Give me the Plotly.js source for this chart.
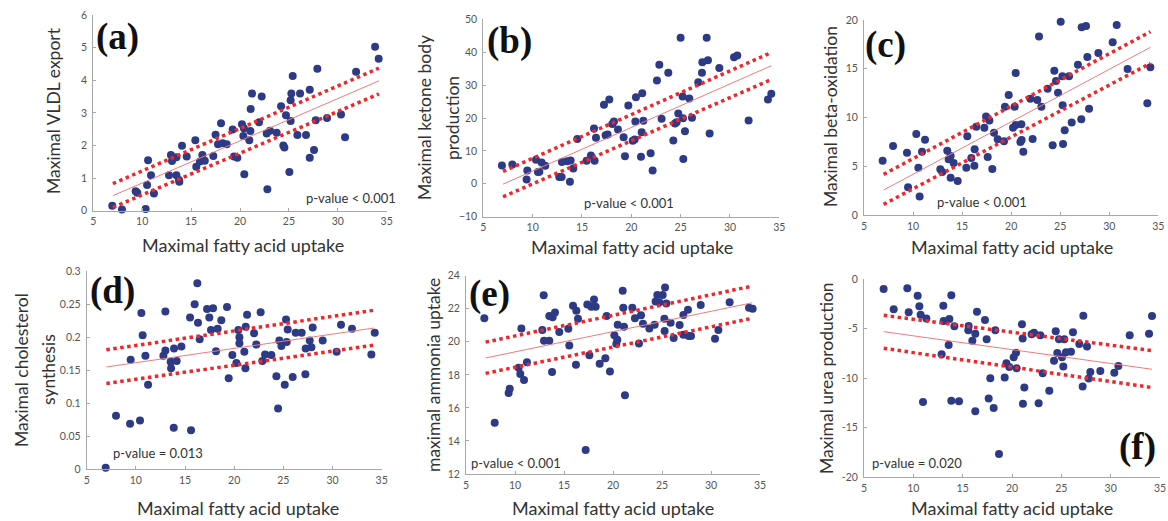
<!DOCTYPE html>
<html><head><meta charset="utf-8">
<script src="https://cdn.plot.ly/plotly-3.0.1.min.js"></script>
<style>html,body{margin:0;padding:0;background:#fff}#chart{width:1168px;height:521px}</style>
</head><body><div id="chart"></div>
<script>
// ---------- data ----------
const aX=[6.94,7.93,9.33,9.5,10.35,10.5,10.6,10.9,11.2,12.74,12.94,13.05,13.5,13.5,13.76,13.8,14.07,14.55,15.43,15.53,15.9,16.15,16.4,17.27,17.5,17.75,18.06,18.23,18.64,19.25,19.39,19.73,20.2,20.34,20.4,20.44,20.95,21.09,21.06,21.23,21.95,22.22,22.73,22.8,23.07,23.75,24.2,24.43,24.54,24.7,25.05,25.18,25.18,25.25,25.39,25.87,26.14,26.75,27.13,27.13,27.57,27.74,27.91,28.9,30.33,30.74,31.87,33.81,34.18];
const aY=[0.15,0.04,0.60,0.55,0.05,0.79,1.55,1.09,0.53,1.09,1.71,1.52,1.64,1.09,0.94,0.89,1.99,1.66,2.16,1.35,1.51,1.71,1.53,1.68,2.33,2.04,2.68,2.07,2.04,2.49,1.66,1.62,2.65,2.29,2.53,1.12,2.16,3.12,2.44,3.59,2.71,3.50,2.37,0.66,2.45,2.39,3.20,2.00,1.94,2.93,1.19,3.39,2.75,3.59,4.13,2.32,3.59,2.32,1.62,3.71,1.86,2.77,4.35,2.84,2.95,2.25,4.26,5.03,4.66];
const bX=[6.89,7.94,9.39,9.46,10.34,10.54,10.68,10.91,11.28,12.7,12.94,12.97,13.51,13.85,13.78,14.12,14.53,15.47,15.91,16.22,16.28,16.42,17.23,17.4,17.6,17.77,18.07,18.24,18.65,19.22,19.36,19.7,20.14,20.34,20.41,20.47,20.98,21.05,21.11,21.22,21.96,22.16,22.6,22.84,23.07,23.75,24.26,24.43,24.59,24.76,25.0,25.2,25.24,25.27,25.44,25.88,26.15,26.79,27.16,27.2,27.64,27.77,27.94,28.92,30.41,30.74,31.89,33.85,34.19];
const bY=[5.57,5.88,1.32,4.05,7.29,3.55,3.65,6.48,5.47,2.03,2.03,6.59,6.89,7.09,0.61,4.66,13.58,6.99,8.61,16.82,6.99,13.98,24.01,14.79,15.0,25.63,18.14,18.95,16.51,14.18,8.41,23.81,13.07,13.48,18.95,26.34,8.21,15.7,27.56,19.15,9.32,4.05,31.41,36.17,19.76,33.74,13.17,18.34,18.74,21.38,44.38,26.55,19.96,7.5,16.0,25.94,20.06,30.9,33.74,36.98,44.38,37.59,15.3,35.16,38.5,39.0,19.25,25.63,27.36];
const cX=[6.9,7.96,9.38,9.49,10.33,10.54,10.67,10.91,11.22,12.78,12.98,13.49,13.63,13.83,13.83,14.14,14.55,15.43,15.53,15.94,16.25,16.28,16.45,17.27,17.44,17.61,17.78,18.08,18.25,18.63,19.27,19.37,19.75,20.19,20.36,20.46,20.46,20.94,21.04,21.07,21.24,21.96,22.19,22.67,22.84,23.08,23.72,24.23,24.4,24.57,24.78,25.05,25.22,25.25,25.29,25.46,25.9,26.17,26.81,27.15,27.19,27.63,27.77,27.94,28.89,30.35,30.76,31.87,33.88,34.19];
const cY=[5.57,7.08,6.39,2.84,8.31,4.85,1.91,6.5,7.73,4.68,4.41,6.6,5.71,6.05,3.83,5.33,3.49,4.85,8.07,5.85,5.06,6.74,9.06,8.96,10.09,5.95,9.68,4.72,8.44,7.76,7.56,11.11,12.31,8.96,11.11,14.56,9.23,7.49,9.3,7.69,6.5,11.93,7.79,11.79,18.32,11.11,12.96,7.15,14.8,13.74,12.55,19.83,14.22,11.25,7.28,8.68,14.22,9.5,15.42,9.81,19.25,19.38,16.2,10.9,16.62,17.71,19.49,14.97,11.45,15.15];
const dX=[6.93,7.98,9.41,9.47,10.42,10.56,10.69,10.97,11.24,12.8,13.0,13.0,13.54,13.58,13.85,13.88,14.15,14.63,15.51,15.61,15.98,16.25,16.32,16.49,17.24,17.47,17.64,17.85,18.15,18.32,18.69,19.27,19.44,19.81,20.22,20.42,20.53,20.53,21.03,21.14,21.17,21.31,22.02,22.25,22.69,22.86,23.14,23.78,24.29,24.46,24.59,24.8,25.14,25.27,25.34,25.44,25.95,26.25,26.86,27.24,27.27,27.68,27.85,27.98,29.0,30.42,30.86,31.98,33.95,34.29];
const dY=[0.0025,0.081,0.069,0.166,0.074,0.237,0.203,0.172,0.128,0.172,0.239,0.18,0.163,0.153,0.063,0.183,0.164,0.186,0.230,0.059,0.25,0.282,0.222,0.197,0.243,0.230,0.211,0.244,0.179,0.213,0.226,0.246,0.138,0.173,0.161,0.211,0.2,0.191,0.178,0.153,0.216,0.234,0.206,0.189,0.238,0.164,0.174,0.173,0.141,0.092,0.195,0.187,0.128,0.227,0.193,0.212,0.14,0.207,0.207,0.144,0.183,0.195,0.185,0.215,0.195,0.178,0.219,0.213,0.174,0.207];
const eX=[6.87,7.93,9.35,9.46,10.37,10.54,10.65,10.92,11.22,12.79,12.93,12.96,13.5,13.5,13.78,13.84,14.08,14.52,15.44,15.54,15.92,16.22,16.26,16.43,17.21,17.38,17.59,17.79,18.06,18.23,18.64,19.22,19.35,19.69,20.14,20.34,20.44,20.48,20.99,21.05,21.12,21.22,21.97,22.24,22.65,22.86,23.06,23.71,24.25,24.35,24.52,24.73,25.07,25.24,25.27,25.31,25.44,25.88,26.19,26.8,27.18,27.18,27.65,27.72,27.96,28.95,30.41,30.75,31.9,33.88,34.25];
const eY=[21.42,15.1,16.9,17.16,18.43,18.05,20.81,17.69,18.77,20.71,22.81,20.06,20.06,21.56,18.17,21.48,21.78,20.59,20.79,19.78,22.18,18.61,21.88,21.4,13.45,22.26,19.18,22.12,22.56,22.12,18.67,19.0,21.56,18.21,20.39,19.88,20.13,21.03,23.09,22.06,20.91,16.76,22.06,21.42,19.9,21.6,21.09,20.81,21.03,22.44,22.83,22.4,22.83,21.4,20.65,23.29,22.32,21.15,20.23,21.01,21.62,20.43,21.94,20.35,20.35,22.22,20.19,20.71,22.4,22.06,22.0];
const fX=[6.99,8.01,9.39,9.53,10.44,10.61,10.74,10.98,11.32,12.87,13.04,13.07,13.58,13.65,13.85,13.85,14.16,14.63,15.57,15.61,15.98,16.28,16.28,16.45,17.26,17.43,17.64,17.8,18.14,18.31,18.68,19.26,19.43,19.73,20.17,20.41,20.47,21.01,21.08,21.11,21.25,21.99,22.23,22.7,22.87,23.11,23.78,24.26,24.43,24.59,24.76,25.07,25.2,25.3,25.47,25.98,26.18,26.82,27.16,27.23,27.6,27.77,27.94,28.95,30.37,30.78,31.93,33.89,34.19];
const fY=[-0.98,-3.03,-0.91,-3.33,-1.65,-2.73,-3.57,-12.39,-3.97,-7.58,-2.66,-4.21,-6.63,-4.01,-1.62,-12.26,-4.75,-12.32,-5.15,-4.71,-6.2,-5.49,-13.33,-3.27,-4.11,-6.06,-12.05,-10.0,-13.0,-5.15,-17.64,-9.93,-8.48,-8.86,-7.88,-7.41,-8.99,-4.55,-5.99,-12.56,-10.94,-5.56,-5.39,-12.53,-5.66,-9.49,-11.25,-8.22,-5.25,-7.44,-6.06,-7.88,-8.82,-6.06,-7.37,-7.31,-5.35,-6.53,-10.84,-3.67,-6.8,-10.03,-9.36,-9.26,-9.43,-8.75,-5.66,-5.49,-3.7];

// regression fit and confidence lines (end values)
const fitX=[7,34.2];
const aFit=[0.46,3.98], aUp=[0.83,4.37], aLo=[0.10,3.58];
const bFit=[-0.1,35.9], bUp=[3.75,39.9], bLo=[-3.95,31.7];
const cFit=[2.56,17.2], cUp=[4.17,18.8], cLo=[1.09,15.56];
const dFit=[0.155,0.214], dUp=[0.181,0.241], dLo=[0.13,0.188];
const eFit=[19.02,22.36], eUp=[19.98,23.37], eLo=[18.09,21.42];
const fFit=[-5.29,-9.09], fUp=[-3.64,-7.2], fLo=[-6.97,-10.94];

// tick labels
const xTicks=[5,10,15,20,25,30,35];
const aTicks=[0,1,2,3,4,5,6];
const bTicks=[-10,0,10,20,30,40,50], bTickText=['−10','0','10','20','30','40','50'];
const cTicks=[0,5,10,15,20];
const dTicks=[0,0.05,0.1,0.15,0.2,0.25,0.3], dTickText=['0','0.05','0.1','0.15','0.2','0.25','0.3'];
const eTicks=[12,14,16,18,20,22,24];
const fTicks=[-20,-15,-10,-5,0], fTickText=['-20','-15','-10','-5','0'];

const xTitle='Maximal fatty acid uptake';
const panels=[
 {id:'a',x:aX,y:aY,fit:aFit,up:aUp,lo:aLo,yr:[0,6],yt:aTicks,ytt:null,label:'(a)',p:'p-value < 0.001',yl:['Maximal VLDL export']},
 {id:'b',x:bX,y:bY,fit:bFit,up:bUp,lo:bLo,yr:[-10,50],yt:bTicks,ytt:bTickText,label:'(b)',p:'p-value < 0.001',yl:['Maximal ketone body','production']},
 {id:'c',x:cX,y:cY,fit:cFit,up:cUp,lo:cLo,yr:[0,20],yt:cTicks,ytt:null,label:'(c)',p:'p-value < 0.001',yl:['Maximal beta-oxidation']},
 {id:'d',x:dX,y:dY,fit:dFit,up:dUp,lo:dLo,yr:[0,0.3],yt:dTicks,ytt:dTickText,label:'(d)',p:'p-value = 0.013',yl:['Maximal cholesterol','synthesis']},
 {id:'e',x:eX,y:eY,fit:eFit,up:eUp,lo:eLo,yr:[12,24],yt:eTicks,ytt:null,label:'(e)',p:'p-value < 0.001',yl:['maximal ammonia uptake']},
 {id:'f',x:fX,y:fY,fit:fFit,up:fUp,lo:fLo,yr:[-20,0],yt:fTicks,ytt:fTickText,label:'(f)',p:'p-value = 0.020',yl:['Maximal urea production']}
];

// ---------- layout geometry (pixels) ----------
const W=1168,H=521;
const boxes=[ // left,right,top,bottom
 [93.3,386.7,15,210.7],[483.3,779.3,19.3,216.7],[864,1158.3,20,215],
 [86.7,381.7,271.3,469.3],[466,760,275.7,474],[864,1160,279.3,477.3]];
const labelPos=[[117,37],[509,41],[885,45],[112,291],[489,294],[1137,447]];
const pPos=[[351,198],[629,203],[982,202],[158,453],[516,463],[917,463]];
const ylPos=[[[53,111]],[[424,118],[452,118]],[[830,117]],[[21,370],[48,370]],[[433,375]],[[826,378]]];
const xlPos=[[243,245],[632,247],[1012,247],[238,508],[613,508],[1012,508]];

const RED='#f0262a', LRED='#f27a7a', NAVY='#2d3a86';
const FONT='Lato, "Open Sans", sans-serif';
const traces=[]; const layout={width:W,height:H,margin:{l:0,r:0,t:0,b:0},showlegend:false,
  paper_bgcolor:'#fff',plot_bgcolor:'#fff',annotations:[],font:{family:FONT}};
const px=v=>v/W, py=v=>1-v/H;

panels.forEach((P,i)=>{
  const n=i===0?'':String(i+1);
  const xa='x'+n, ya='y'+n;
  const b=boxes[i];
  traces.push({x:P.x,y:P.y,xaxis:xa,yaxis:ya,type:'scatter',mode:'markers',cliponaxis:false,
    marker:{color:NAVY,size:8,line:{width:0}}});
  traces.push({x:fitX,y:P.fit,xaxis:xa,yaxis:ya,type:'scatter',mode:'lines',line:{color:LRED,width:1}});
  traces.push({x:fitX,y:P.up,xaxis:xa,yaxis:ya,type:'scatter',mode:'lines',line:{color:RED,width:3.5,dash:'dot'}});
  traces.push({x:fitX,y:P.lo,xaxis:xa,yaxis:ya,type:'scatter',mode:'lines',line:{color:RED,width:3.5,dash:'dot'}});
  const axCommon={showgrid:false,zeroline:false,showline:true,linecolor:'#a8a8a8',linewidth:1,
    ticks:'inside',ticklen:3,tickcolor:'#a8a8a8',tickfont:{family:FONT,size:10.5,color:'#555'},fixedrange:true};
  layout['xaxis'+n]=Object.assign({},axCommon,{domain:[px(b[0]),px(b[1])],range:[5,35],anchor:ya,
    tickvals:xTicks,ticklabelstandoff:1});
  const yax=Object.assign({},axCommon,{domain:[py(b[3]),py(b[2])],range:P.yr,anchor:xa,tickvals:P.yt,ticklabelstandoff:3});
  if(P.ytt) yax.ticktext=P.ytt;
  layout['yaxis'+n]=yax;
  layout.annotations.push({xref:'paper',yref:'paper',x:px(labelPos[i][0]),y:py(labelPos[i][1]),text:'<b>'+P.label+'</b>',
    showarrow:false,font:{family:'"Liberation Serif", "DejaVu Serif", serif',size:37,color:'#111'},xanchor:'center',yanchor:'middle'});
  layout.annotations.push({xref:'paper',yref:'paper',x:px(pPos[i][0]),y:py(pPos[i][1]),text:P.p,
    showarrow:false,font:{family:FONT,size:13,color:'#333'},xanchor:'center',yanchor:'middle'});
  P.yl.forEach((t,k)=>{
    layout.annotations.push({xref:'paper',yref:'paper',x:px(ylPos[i][k][0]),y:py(ylPos[i][k][1]),text:t,textangle:-90,
      showarrow:false,font:{family:FONT,size:17.5,color:'#333'},xanchor:'center',yanchor:'middle'});
  });
  layout.annotations.push({xref:'paper',yref:'paper',x:px(xlPos[i][0]),y:py(xlPos[i][1]),text:xTitle,
    showarrow:false,font:{family:FONT,size:18,color:'#333'},xanchor:'center',yanchor:'middle'});
});

Plotly.newPlot('chart',traces,layout,{displayModeBar:false,staticPlot:true});
</script></body></html>
